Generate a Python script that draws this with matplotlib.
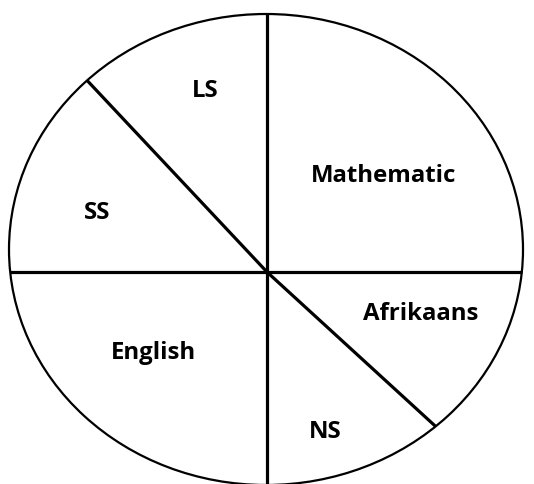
import numpy as np
import matplotlib
matplotlib.use('Agg')
import matplotlib.pyplot as plt
from matplotlib.patches import Ellipse

# subjects and their share of the pie (percent), counter-clockwise from 3 o'clock
subjects = ['Mathematic', 'LS', 'SS', 'English', 'NS', 'Afrikaans']
shares = [25, 12, 13, 25, 13.2, 11.8]

# layout (pixel space of the 534x484 picture)
cx, cy = 266, 249.5          # ellipse centre
rx, ry = 257, 235.5          # ellipse semi-axes
hx, hy = 267, 272            # where the dividing lines meet
label_xy = [(384, 176), (205, 91), (97, 213), (153, 353), (325, 432), (421, 314)]

fig = plt.figure(figsize=(5.34, 4.84), dpi=100)
ax = fig.add_axes([0, 0, 1, 1])
ax.set_xlim(0, 534)
ax.set_ylim(484, 0)
ax.axis('off')

ax.add_patch(Ellipse((cx, cy), 2 * rx, 2 * ry, fill=False, edgecolor='black', lw=1.6))


def hit_ellipse(angle):
    # distance along a ray from the hub until it meets the ellipse
    dx, dy = np.cos(np.radians(angle)), -np.sin(np.radians(angle))
    ox, oy = hx - cx, hy - cy
    a = (dx / rx) ** 2 + (dy / ry) ** 2
    b = 2 * (ox * dx / rx ** 2 + oy * dy / ry ** 2)
    c = (ox / rx) ** 2 + (oy / ry) ** 2 - 1
    t = (-b + np.sqrt(b * b - 4 * a * c)) / (2 * a)
    return hx + t * dx, hy + t * dy


bounds = np.concatenate([[0], np.cumsum(shares)]) * 3.6
for ang in bounds[:-1]:
    ex, ey = hit_ellipse(ang)
    ax.plot([hx, ex], [hy, ey], color='black', lw=2.3, solid_capstyle='butt')

for name, (lx, ly) in zip(subjects, label_xy):
    ax.text(lx, ly, name, ha='center', va='center', fontsize=17.3,
            fontweight='bold', family=['Open Sans', 'DejaVu Sans'])

fig.savefig('out.png', dpi=100)
